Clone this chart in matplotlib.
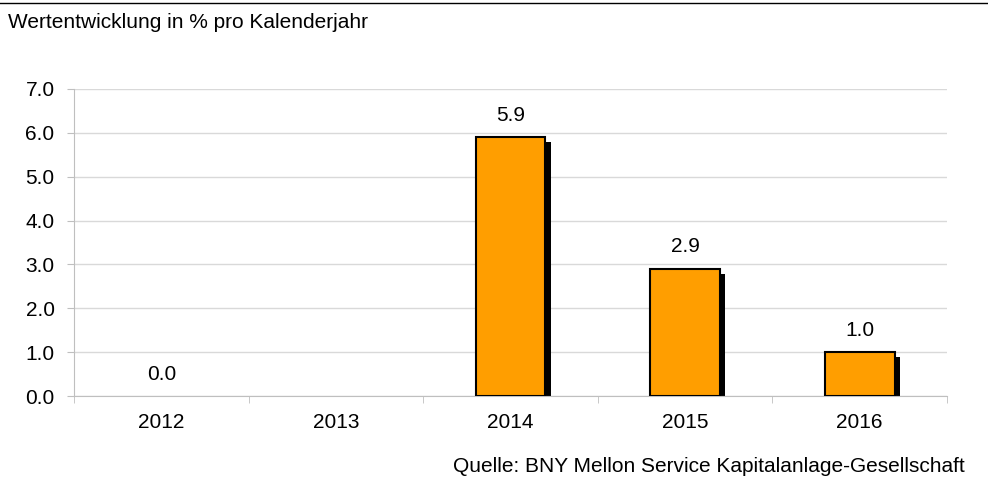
import numpy as np
import matplotlib
matplotlib.use("Agg")
import matplotlib.pyplot as plt
from matplotlib.lines import Line2D

plt.rcParams['font.family'] = ['Liberation Sans', 'DejaVu Sans']

# Daten
jahre = ['2012', '2013', '2014', '2015', '2016']
werte = [0.0, np.nan, 5.9, 2.9, 1.0]

fs = 15

fig = plt.figure(figsize=(9.88, 4.84), dpi=100)
ax = fig.add_axes([74/988, 1-396/484, (947-74)/988, (396-89)/484])

x = np.arange(len(jahre))
w = np.array(werte, dtype=float)
hat_wert = ~np.isnan(w) & (np.nan_to_num(w) > 0)
breite = 0.4

# Schatten
ax.bar(x[hat_wert] + 0.03, np.clip(w[hat_wert] - 0.11, 0, None), width=breite,
       color='black', zorder=2)
# Balken
ax.bar(x[hat_wert], w[hat_wert], width=breite, color='#ff9e00',
       edgecolor='black', linewidth=1.5, zorder=3)

for xi, v in zip(x, w):
    if not np.isnan(v):
        ax.text(xi, v + 0.5, f"{v:.1f}", ha='center', va='center', fontsize=fs)

ax.set_xlim(-0.5, len(jahre) - 0.5)
ax.set_ylim(0, 7)
ax.set_yticks(np.arange(0, 7.1, 1.0))
ax.set_yticklabels([f"{t:.1f}" for t in np.arange(0, 7.1, 1.0)], fontsize=fs)
ax.set_xticks(x)
ax.set_xticklabels(jahre, fontsize=fs)
ax.set_xticks(np.arange(-0.5, len(jahre)), minor=True)
ax.tick_params(axis='x', which='major', length=0, pad=12)
ax.tick_params(axis='x', which='minor', length=5, color='#bfbfbf')
ax.tick_params(axis='y', length=5, color='#bfbfbf', pad=9)
ax.yaxis.grid(True, color='#d9d9d9', linewidth=1)
ax.set_axisbelow(True)
for s in ['top', 'right']:
    ax.spines[s].set_visible(False)
ax.spines['left'].set_color('#bfbfbf')
ax.spines['bottom'].set_color('#bfbfbf')

fig.add_artist(Line2D([0, 1], [1-3/484, 1-3/484], color='black', linewidth=1))
fig.text(8/988, 1-22/484, "Wertentwicklung in % pro Kalenderjahr", fontsize=fs,
         ha='left', va='center')
fig.text(965/988, 1-466/484, "Quelle: BNY Mellon Service Kapitalanlage-Gesellschaft",
         fontsize=fs, ha='right', va='center')

fig.savefig('out.png', dpi=100)
